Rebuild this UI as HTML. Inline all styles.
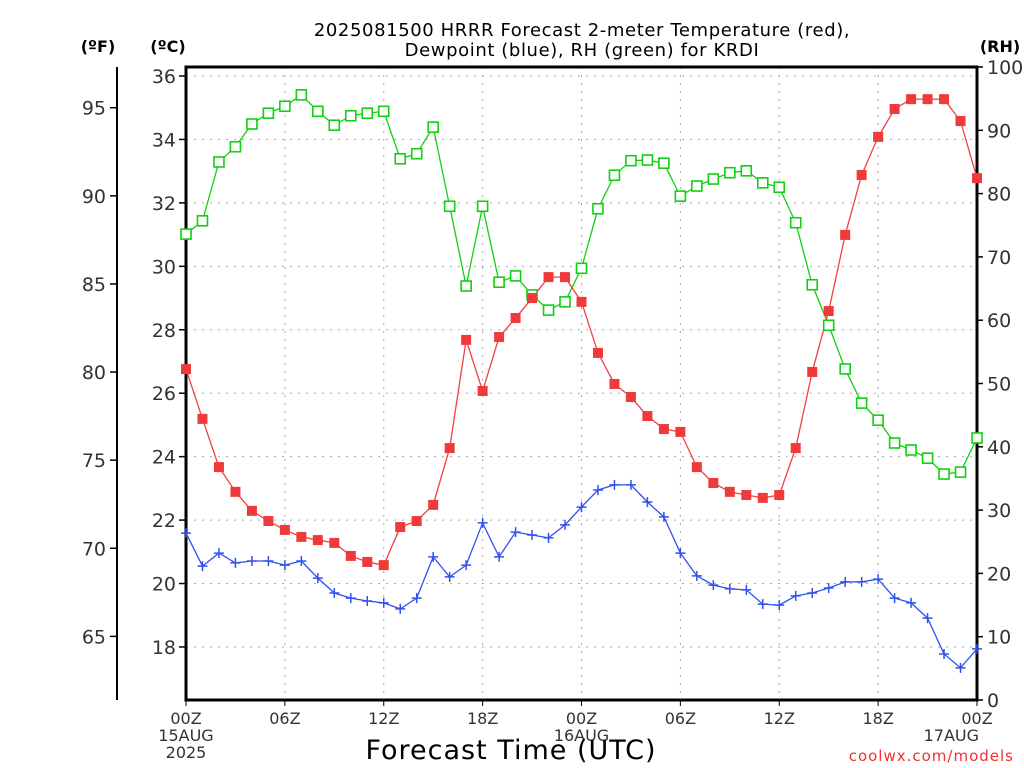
<!DOCTYPE html>
<html><head><meta charset="utf-8"><style>
body{margin:0;background:#fff;width:1024px;height:768px;overflow:hidden}
svg{display:block;font-family:"DejaVu Sans","Liberation Sans",sans-serif}
</style></head><body>
<svg id="chart" width="1024" height="768" viewBox="0 0 1024 768">
<g>
<text x="582" y="36" text-anchor="middle" font-size="18" letter-spacing="0.6" fill="#000">2025081500 HRRR Forecast 2-meter Temperature (red),</text>
<text x="582" y="56" text-anchor="middle" font-size="18" letter-spacing="0.6" fill="#000">Dewpoint (blue), RH (green) for KRDI</text>
</g>
<text x="98" y="52" text-anchor="middle" font-size="16" font-weight="bold">(ºF)</text>
<text x="168" y="52" text-anchor="middle" font-size="16" font-weight="bold">(ºC)</text>
<text x="1000" y="52" text-anchor="middle" font-size="16" font-weight="bold">(RH)</text>
<g id="grid"></g>
<g id="axes"></g>
<g id="series"></g>
<text x="511" y="759" text-anchor="middle" font-size="27" letter-spacing="1">Forecast Time (UTC)</text>
<text x="1014" y="761" text-anchor="end" font-size="15" fill="#f03030" letter-spacing="1">coolwx.com/models</text>
</svg>
<script>
const hours = Array.from({length:49},(_,i)=>i);
const tempC = [26.76,25.19,23.67,22.89,22.29,21.97,21.69,21.47,21.37,21.28,20.87,20.68,20.58,21.78,21.97,22.48,24.27,27.68,26.07,27.77,28.37,29.0,29.66,29.66,28.88,27.27,26.29,25.88,25.28,24.87,24.78,23.67,23.17,22.89,22.79,22.70,22.79,24.27,26.67,28.59,30.99,32.88,34.08,34.96,35.27,35.27,35.27,34.58,32.78];
const dewC = [21.59,20.55,20.96,20.65,20.71,20.71,20.58,20.71,20.17,19.70,19.54,19.45,19.39,19.20,19.54,20.84,20.21,20.58,21.91,20.84,21.62,21.53,21.44,21.85,22.41,22.95,23.11,23.11,22.57,22.10,20.96,20.24,19.95,19.83,19.80,19.35,19.32,19.61,19.70,19.86,20.05,20.05,20.14,19.54,19.39,18.91,17.78,17.34,17.94];
const rh = [73.6,75.7,85.0,87.4,91.0,92.7,93.8,95.6,93.0,90.8,92.3,92.7,93.0,85.5,86.3,90.5,78.0,65.4,78.0,66.0,67.0,64.0,61.6,62.9,68.2,77.6,82.9,85.2,85.3,84.8,79.6,81.2,82.3,83.3,83.6,81.7,81.0,75.4,65.6,59.2,52.3,46.9,44.2,40.6,39.5,38.2,35.7,36.0,41.4];
const cTicks = [18,20,22,24,26,28,30,32,34,36];
const fTicks = [65,70,75,80,85,90,95];
const rhTicks = [0,10,20,30,40,50,60,70,80,90,100];
const xTickHours = [0,6,12,18,24,30,36,42,48];
const xTickLabels = ["00Z","06Z","12Z","18Z","00Z","06Z","12Z","18Z","00Z"];
const xSubLabels = ["15AUG","","","","16AUG","","","","17AUG"];

const L=186,R=977,T=67,B=700;
const x = h => L + h*(R-L)/48;
const yC = c => 76 + (36-c)*31.72;
const yF = f => yC((f-32)*5/9);
const yRH = r => B - r*(B-T)/100;
const NS="http://www.w3.org/2000/svg";
function mk(parent,tag,attrs){const e=document.createElementNS(NS,tag);for(const k in attrs)e.setAttribute(k,attrs[k]);parent.appendChild(e);return e;}
const grid=document.getElementById('grid'), axes=document.getElementById('axes'), series=document.getElementById('series');

cTicks.forEach(c=>{
  const l=mk(grid,'line',{x1:L,x2:R,y1:yC(c),y2:yC(c),stroke:'#aaa','stroke-dasharray':'2 6'});
  
  
  const t=mk(axes,'line',{x1:L-7,x2:L,y1:yC(c),y2:yC(c),stroke:'#000','stroke-width':1.5});
  
  
  const tx=mk(axes,'text',{x:L-10,y:yC(c)+7,'text-anchor':'end','font-size':19,fill:'#333'});
  tx.textContent=c;
  
  
});
xTickHours.forEach((h,i)=>{
  if(i>0&&i<xTickHours.length-1){
    const l=mk(grid,'line',{x1:x(h),x2:x(h),y1:T,y2:B,stroke:'#aaa','stroke-dasharray':'2 6'});
    
    
  }
  const t=mk(axes,'line',{x1:x(h),x2:x(h),y1:B,y2:B+6,stroke:'#000'});
  
  
  const tx=mk(axes,'text',{x:x(h),y:724,'text-anchor':'middle','font-size':16,fill:'#333'});
  tx.textContent=xTickLabels[i];
  
  
  if(xSubLabels[i]){
    const s=mk(axes,'text',{x:x(h),y:741,'text-anchor':i===8?'end':'middle','font-size':16,fill:'#333'});
    if(i===8)s.setAttribute('x',R+2);
    s.textContent=xSubLabels[i];
    
    
  }
});
const yr=mk(axes,'text',{x:x(0),y:758,'text-anchor':'middle','font-size':16,fill:'#333'});
yr.textContent='2025';


fTicks.forEach(f=>{
  const t=mk(axes,'line',{x1:110,x2:117,y1:yF(f),y2:yF(f),stroke:'#000','stroke-width':1.5});
  
  
  const tx=mk(axes,'text',{x:106,y:yF(f)+7,'text-anchor':'end','font-size':19,fill:'#333'});
  tx.textContent=f;
  
  
});
rhTicks.forEach(r=>{
  const t=mk(axes,'line',{x1:R,x2:R+6,y1:yRH(r),y2:yRH(r),stroke:'#000','stroke-width':1.5});
  
  
  const tx=mk(axes,'text',{x:R+10,y:yRH(r)+7,'text-anchor':'start','font-size':19,fill:'#333'});
  tx.textContent=r;
  
  
});
const fa=mk(axes,'line',{x1:117,x2:117,y1:T,y2:B,stroke:'#000','stroke-width':2});


const fr=mk(axes,'rect',{x:L,y:T,width:R-L,height:B-T,fill:'none',stroke:'#000','stroke-width':3});



function line(vals,yf,color,name){
  const p=mk(series,'polyline',{points:vals.map((v,i)=>x(hours[i])+','+yf(v)).join(' '),fill:'none',stroke:color,'stroke-width':1.3});
  
  
}
line(rh,yRH,'#10d010','rh');
line(tempC,yC,'#f04040','temperature');
line(dewC,yC,'#3050f0','dewpoint');
rh.forEach((v,i)=>{
  const m=mk(series,'rect',{x:x(hours[i])-5,y:yRH(v)-5,width:10,height:10,fill:'#fff',stroke:'#10d010','stroke-width':1.6});
  
  
});
tempC.forEach((v,i)=>{
  const m=mk(series,'rect',{x:x(hours[i])-5,y:yC(v)-5,width:10,height:10,fill:'#f03a3a'});
  
  
});
dewC.forEach((v,i)=>{
  const cx=x(hours[i]),cy=yC(v);
  const m=mk(series,'path',{d:`M${cx-5} ${cy}H${cx+5}M${cx} ${cy-5}V${cy+5}`,stroke:'#3050f0','stroke-width':1.5});
  
  
});
</script>
</body></html>
